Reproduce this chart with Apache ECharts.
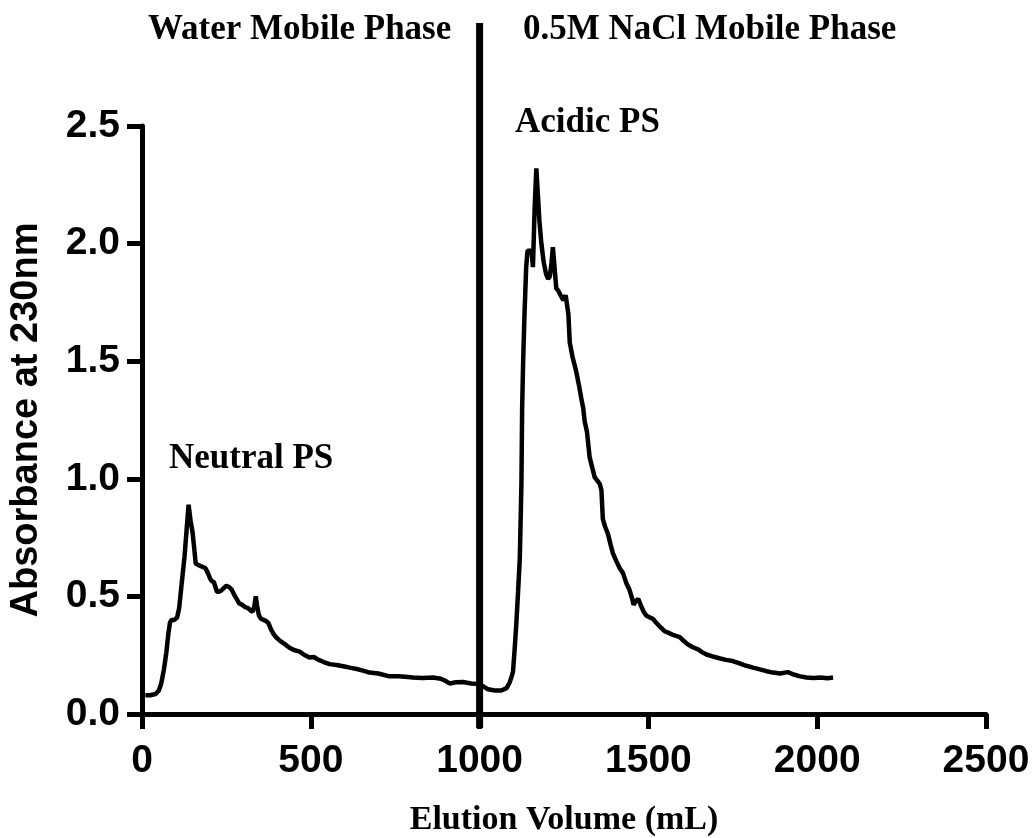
<!DOCTYPE html>
<html>
<head>
<meta charset="utf-8">
<script src="https://cdn.jsdelivr.net/npm/echarts@6/dist/echarts.min.js"></script>
<style>
html,body{margin:0;padding:0;background:#fff;}
#chart{width:1036px;height:838px;}
</style>
</head>
<body>
<div id="chart"></div>
<script>
// Elution volume (mL)
var volume = [10,25,40,50,57,65,72,78,83,88,96,104,110,118,126,132,138,144,150,155,159,165,172,180,188,195,202,207,213,218,222,228,235,242,250,258,265,272,280,288,296,305,314,322,328,333,337,341,346,352,360,368,375,382,390,398,410,425,437,450,467,480,496,510,520,540,556,580,600,615,640,660,674,700,733,760,780,802,830,862,885,900,911,930,951,975,1000,1025,1045,1064,1080,1089,1095,1099,1105,1109,1114,1119,1122,1124,1126,1129,1133,1138,1142,1154,1158,1163,1168,1173,1177,1183,1190,1197,1203,1208,1213,1217,1222,1227,1233,1240,1248,1255,1260,1263,1267,1275,1286,1294,1301,1307,1311,1318,1326,1335,1341,1350,1356,1361,1365,1372,1380,1388,1395,1405,1415,1425,1435,1444,1452,1456,1463,1470,1478,1486,1494,1505,1513,1522,1535,1548,1560,1575,1593,1605,1617,1630,1647,1660,1672,1690,1710,1730,1750,1770,1790,1810,1830,1850,1869,1890,1913,1930,1950,1968,1990,2010,2030,2047];
// Absorbance at 230 nm
var absorbance = [0.08,0.08,0.085,0.10,0.13,0.19,0.26,0.34,0.39,0.40,0.40,0.41,0.45,0.56,0.67,0.78,0.89,0.82,0.77,0.70,0.64,0.635,0.63,0.625,0.62,0.60,0.575,0.565,0.56,0.565,0.52,0.52,0.525,0.535,0.545,0.54,0.53,0.51,0.49,0.47,0.465,0.455,0.45,0.44,0.435,0.46,0.50,0.46,0.42,0.405,0.40,0.395,0.385,0.36,0.34,0.325,0.31,0.295,0.282,0.272,0.265,0.252,0.24,0.242,0.232,0.22,0.212,0.207,0.202,0.197,0.19,0.182,0.176,0.172,0.16,0.16,0.158,0.155,0.153,0.155,0.15,0.14,0.13,0.135,0.136,0.13,0.127,0.105,0.10,0.10,0.11,0.134,0.16,0.18,0.30,0.39,0.52,0.66,0.85,0.99,1.30,1.50,1.70,1.90,1.97,1.97,1.90,2.15,2.32,2.20,2.10,2.00,1.92,1.87,1.85,1.86,1.92,1.985,1.90,1.81,1.80,1.78,1.76,1.78,1.78,1.70,1.58,1.52,1.457,1.40,1.344,1.30,1.246,1.20,1.091,1.04,1.006,0.99,0.978,0.95,0.83,0.795,0.767,0.72,0.683,0.65,0.62,0.598,0.555,0.528,0.49,0.465,0.48,0.49,0.46,0.435,0.418,0.41,0.405,0.39,0.37,0.352,0.345,0.335,0.327,0.31,0.296,0.285,0.275,0.262,0.253,0.245,0.237,0.23,0.225,0.215,0.205,0.197,0.19,0.182,0.176,0.172,0.178,0.168,0.16,0.155,0.153,0.155,0.152,0.155];
var xTicks = [0, 500, 1000, 1500, 2000, 2500];
var yTicks = ['0.0','0.5','1.0','1.5','2.0','2.5'];
var phaseBoundary = 1000;
var phaseLabels = ['Water Mobile Phase', '0.5M NaCl Mobile Phase'];
var peakLabels = ['Neutral PS', 'Acidic PS'];

var pts = volume.map(function(v, i){ return [v, absorbance[i]]; });

var chart = echarts.init(document.getElementById('chart'));
var sans = 'Liberation Sans, Arial, sans-serif';
var serif = 'Liberation Serif, Times New Roman, serif';
function texts() {
  return [
    {type: 'text', left: 148, top: 12, style: {text: phaseLabels[0], font: 'bold 35px ' + serif, fill: '#000'}},
    {type: 'text', left: 523, top: 12, style: {text: phaseLabels[1], font: 'bold 35px ' + serif, fill: '#000'}},
    {type: 'text', left: 169, top: 441, style: {text: peakLabels[0], font: 'bold 35px ' + serif, fill: '#000'}},
    {type: 'text', left: 515, top: 105, style: {text: peakLabels[1], font: 'bold 35px ' + serif, fill: '#000'}}
  ];
}
var option = {
  animation: false,
  backgroundColor: '#fff',
  grid: {left: 142, right: 50, top: 126, bottom: 124, containLabel: false, outerBoundsMode: 'none'},
  xAxis: {
    type: 'value', min: 0, max: 2500, interval: 500,
    name: 'Elution Volume (mL)', nameLocation: 'middle', nameGap: 89,
    nameTextStyle: {fontFamily: serif, fontWeight: 'bold', fontSize: 34, color: '#000'},
    axisLine: {show: true, lineStyle: {color: '#000', width: 5}},
    axisTick: {show: true, length: 15, lineStyle: {color: '#000', width: 5}},
    axisLabel: {margin: 28, fontFamily: sans, fontWeight: 'bold', fontSize: 39, color: '#000',
      formatter: function(v){ return xTicks.indexOf(v) >= 0 ? String(v) : ''; }},
    splitLine: {show: false}
  },
  yAxis: {
    type: 'value', min: 0, max: 2.5, interval: 0.5,
    name: 'Absorbance at 230nm', nameLocation: 'middle', nameGap: 96, nameRotate: 90,
    nameTextStyle: {fontFamily: sans, fontWeight: 'bold', fontSize: 38, color: '#000'},
    axisLine: {show: true, lineStyle: {color: '#000', width: 5}},
    axisTick: {show: true, length: 15, lineStyle: {color: '#000', width: 5}},
    axisLabel: {margin: 22, fontFamily: sans, fontWeight: 'bold', fontSize: 39, color: '#000',
      formatter: function(v){ return yTicks[Math.round(v / 0.5)]; }},
    splitLine: {show: false}
  },
  series: [{
    type: 'line',
    data: pts,
    showSymbol: false,
    symbol: 'none',
    lineStyle: {color: '#000', width: 4.5}
  }],
  graphic: texts()
};
chart.setOption(option);

// Phase boundary divider: from the bottom of the x-axis tick up above the plot area
var bx = chart.convertToPixel({xAxisIndex: 0}, phaseBoundary);
var yBottom = chart.convertToPixel({yAxisIndex: 0}, 0) + 14;
var g = texts();
g.push({type: 'line', z: 100, shape: {x1: bx, y1: 23, x2: bx, y2: yBottom},
        style: {stroke: '#000', lineWidth: 7}});
chart.setOption({graphic: g}, {replaceMerge: ['graphic']});
</script>
</body>
</html>
